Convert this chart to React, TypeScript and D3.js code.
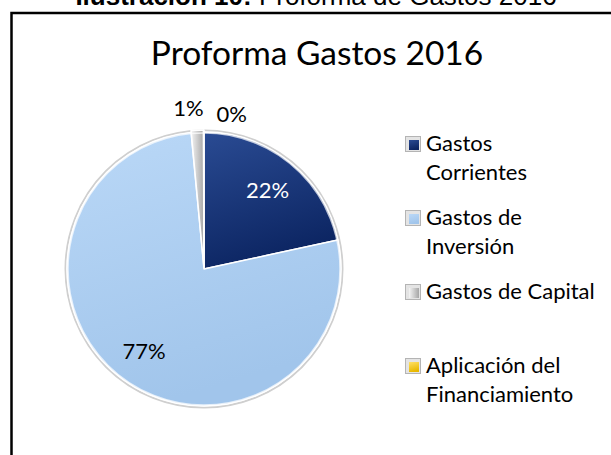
import * as d3 from "d3";
import React, { useEffect, useRef } from "react";

// chart data
const categories = [
  "Gastos Corrientes",
  "Gastos de Inversión",
  "Gastos de Capital",
  "Aplicación del Financiamiento",
];
const legendLines = [
  ["Gastos", "Corrientes"],
  ["Gastos de", "Inversión"],
  ["Gastos de Capital"],
  ["Aplicación del", "Financiamiento"],
];
const values = [21.6, 76.9, 1.45, 0.05];
const percentLabels = ["22%", "77%", "1%", "0%"];
const colorsTop = ["#2a4b93", "#bad8f7", "#f4f4f4", "#ffe066"];
const colorsBottom = ["#0c2562", "#a1c5eb", "#a6a6a6", "#e8b800"];

const App: React.FC = () => {
  const ref = useRef<SVGSVGElement>(null);

  useEffect(() => {
    const width = 611;
    const height = 455;
    const font = "Lato, 'Open Sans', sans-serif";

    d3.select(ref.current).selectAll("*").remove();
    const svg = d3.select(ref.current).attr("width", width).attr("height", height);

    // gradients for slices and legend swatches
    const defs = svg.append("defs");
    categories.forEach((c, i) => {
      const g = defs.append("linearGradient")
        .attr("id", `grad${i}`)
        .attr("x1", "0").attr("y1", "0")
        .attr("x2", i === 2 ? "1" : "0.3").attr("y2", i === 2 ? "0" : "1");
      g.append("stop").attr("offset", "0%").attr("stop-color", colorsTop[i]);
      g.append("stop").attr("offset", "100%").attr("stop-color", colorsBottom[i]);
    });

    // outer frame (only top and left visible)
    svg.append("rect")
      .attr("x", 11.5)
      .attr("y", 13)
      .attr("width", 700)
      .attr("height", 600)
      .attr("fill", "white")
      .attr("stroke", "#000")
      .attr("stroke-width", 2.5);

    // caption above the frame, mostly cut off
    const caption = svg.append("text")
      .attr("x", 316)
      .attr("y", 5)
      .attr("text-anchor", "middle")
      .style("font-family", "Arial, 'Liberation Sans', sans-serif")
      .style("font-size", "26px");
    caption.append("tspan").style("font-weight", "bold").text("Ilustración 10:");
    caption.append("tspan").text(" Proforma de Gastos 2016");

    // chart title
    svg.append("text")
      .attr("x", 317)
      .attr("y", 65)
      .attr("text-anchor", "middle")
      .style("font-family", font)
      .style("font-size", "33.5px")
      .text("Proforma Gastos 2016");

    // pie
    const cx = 204;
    const cy = 269;
    const r = 137;

    const pie = d3.pie<number>().sort(null).value((d) => d);
    const arcs = pie(values);
    const arc = d3.arc<d3.PieArcDatum<number>>().innerRadius(0).outerRadius(r);

    const pieG = svg.append("g").attr("transform", `translate(${cx},${cy})`);

    pieG.append("circle")
      .attr("r", r + 1.5)
      .attr("fill", "none")
      .attr("stroke", "#cfcfcf")
      .attr("stroke-width", 2);

    pieG.selectAll("path.slice")
      .data(arcs)
      .enter()
      .append("path")
      .attr("class", "slice")
      .attr("d", arc)
      .attr("transform", (d) => {
        // small slices pulled out slightly, as in the original
        if (d.endAngle - d.startAngle > 0.2) return null;
        const mid = (d.startAngle + d.endAngle) / 2;
        return `translate(${Math.sin(mid) * 2},${-Math.cos(mid) * 2})`;
      })
      .attr("fill", (d, i) => `url(#grad${i})`)
      .attr("stroke", "#ffffff")
      .attr("stroke-width", 1.5)
      .attr("stroke-linejoin", "round");

    pieG.append("circle")
      .attr("r", r - 1)
      .attr("fill", "none")
      .attr("stroke", "rgba(255,255,255,0.7)")
      .attr("stroke-width", 1.5);

    // data labels
    const labelArc = d3.arc<d3.PieArcDatum<number>>()
      .innerRadius(r * 0.74).outerRadius(r * 0.74);
    const outerArc = d3.arc<d3.PieArcDatum<number>>()
      .innerRadius(r + 16).outerRadius(r + 16);

    let smallCount = 0;
    arcs.forEach((d, i) => {
      const small = d.endAngle - d.startAngle < 0.2;
      let [x, y] = small ? outerArc.centroid(d) : labelArc.centroid(d);
      if (small) {
        x += smallCount * 36 - 8;
        y += smallCount * 6;
        smallCount++;
      }
      pieG.append("text")
        .attr("x", x)
        .attr("y", y)
        .attr("dy", small ? "0" : "0.36em")
        .attr("text-anchor", "middle")
        .attr("fill", i === 0 ? "#ffffff" : "#000000")
        .style("font-family", font)
        .style("font-size", "22px")
        .text(percentLabels[i]);
    });

    // legend
    const legend = svg.append("g").attr("transform", "translate(405,151)");
    const slot = 74;
    const lineH = 29;
    categories.forEach((c, i) => {
      const g = legend.append("g").attr("transform", `translate(0,${i * slot})`);
      g.append("rect")
        .attr("x", 0.5).attr("y", -14.5)
        .attr("width", 15).attr("height", 15)
        .attr("fill", "#e4e4e4")
        .attr("stroke", "#b4b4b4");
      g.append("rect")
        .attr("x", 4).attr("y", -11)
        .attr("width", 10).attr("height", 10)
        .attr("fill", `url(#grad${i})`);
      legendLines[i].forEach((line, j) => {
        g.append("text")
          .attr("x", 21)
          .attr("y", j * lineH)
          .style("font-family", font)
          .style("font-size", "22px")
          .text(line);
      });
    });
  }, []);

  return (
    <svg ref={ref} style={{ position: "absolute", left: 0, top: 0 }}></svg>
  );
};

export default App;
